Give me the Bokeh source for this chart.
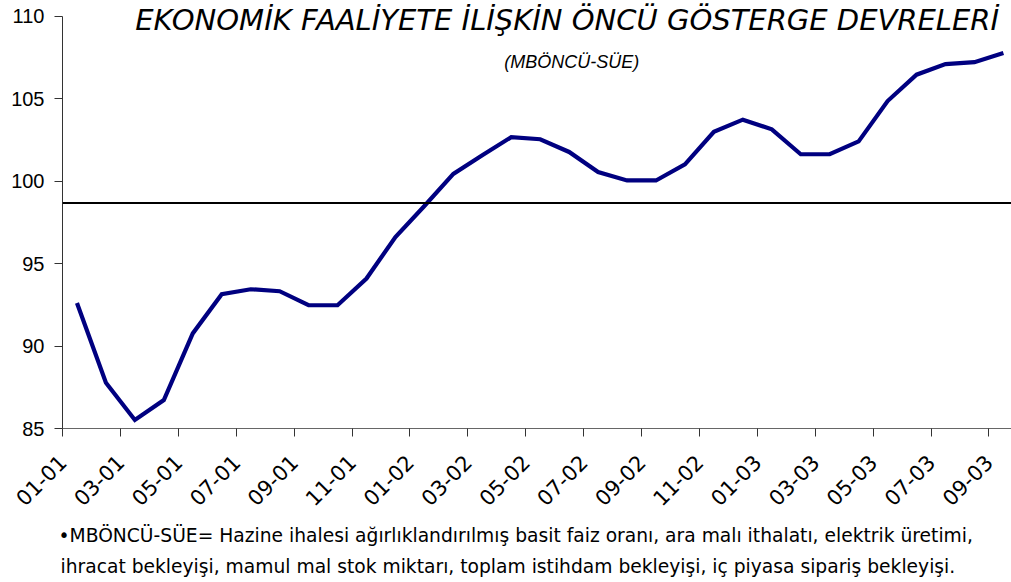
import math
from bokeh.plotting import figure
from bokeh.models import Range1d, FixedTicker, Label, Span, ColumnDataSource, Title
from bokeh.embed import file_html
from bokeh.resources import INLINE

# ---- data ----
months = ["01-01", "02-01", "03-01", "04-01", "05-01", "06-01", "07-01", "08-01",
          "09-01", "10-01", "11-01", "12-01",
          "01-02", "02-02", "03-02", "04-02", "05-02", "06-02", "07-02", "08-02",
          "09-02", "10-02", "11-02", "12-02",
          "01-03", "02-03", "03-03", "04-03", "05-03", "06-03", "07-03", "08-03",
          "09-03"]
values = [92.62, 87.78, 85.52, 86.73, 90.77, 93.15, 93.45, 93.33,
          92.48, 92.48, 94.10, 96.62,
          98.50, 100.45, 101.58, 102.68, 102.55, 101.78, 100.56, 100.05,
          100.05, 101.03, 103.00, 103.74,
          103.15, 101.64, 101.64, 102.42, 104.87, 106.47, 107.11, 107.23,
          107.78]
ref_level = 98.68
y_ticks = [85, 90, 95, 100, 105, 110]
x_tick_idx = list(range(0, len(months), 2))

title_text = "EKONOMİK FAALİYETE İLİŞKİN ÖNCÜ GÖSTERGE DEVRELERİ"
subtitle_text = "(MBÖNCÜ-SÜE)"
note_line1 = "•MBÖNCÜ-SÜE= Hazine ihalesi ağırlıklandırılmış basit faiz oranı, ara malı ithalatı, elektrik üretimi,"
note_line2 = "ihracat bekleyişi, mamul mal stok miktarı, toplam istihdam bekleyişi, iç piyasa sipariş bekleyişi."

# ---- figure ----
p = figure(width=1011, height=582, output_backend="svg", toolbar_location=None,
           x_range=Range1d(0, 32.78), y_range=Range1d(85, 110.97),
           min_border_left=62, min_border_top=0, min_border_right=0,
           min_border_bottom=154)
p.outline_line_color = None
p.background_fill_color = "white"
p.border_fill_color = "white"
p.xgrid.visible = False
p.ygrid.visible = False

src = ColumnDataSource(dict(x=[i + 0.5 for i in range(len(values))], y=values))
p.line("x", "y", source=src, line_color="#000080", line_width=4.2, line_join="miter")

p.add_layout(Span(location=ref_level, dimension="width", line_color="black", line_width=2))

# y axis
ya = p.yaxis[0]
ya.ticker = FixedTicker(ticks=y_ticks)
ya.bounds = (85, 110)
ya.minor_tick_line_color = None
ya.major_tick_out = 8
ya.major_tick_in = 0
ya.axis_line_color = "#333333"
ya.major_tick_line_color = "#333333"
ya.major_label_text_font = "Liberation Sans"
ya.major_label_text_font_size = "20px"
ya.major_label_text_color = "black"
ya.major_label_standoff = 10

# x axis
xa = p.xaxis[0]
xa.ticker = FixedTicker(ticks=x_tick_idx)
xa.major_label_overrides = {i: months[i] for i in x_tick_idx}
xa.minor_tick_line_color = None
xa.major_tick_out = 8
xa.major_tick_in = 0
xa.axis_line_color = "#666666"
xa.major_tick_line_color = "#333333"
xa.major_label_text_font = "DejaVu Sans"
xa.major_label_text_font_size = "21px"
xa.major_label_text_color = "black"
xa.major_label_orientation = math.pi / 4
xa.major_label_standoff = 22

# footnote
p.add_layout(Title(text=note_line1, align="left", offset=-4, standoff=14,
                   text_font="DejaVu Sans", text_font_style="normal",
                   text_font_size="18.7px", text_color="black"), "below")
p.add_layout(Title(text=note_line2, align="left", offset=-2, standoff=3,
                   text_font="DejaVu Sans", text_font_style="normal",
                   text_font_size="18.7px", text_color="black"), "below")

# titles
p.add_layout(Label(x=17.43, y=109.8, text=title_text, text_align="center",
                   text_baseline="alphabetic", text_font="DejaVu Sans",
                   text_font_style="italic", text_font_size="29px", text_color="black"))
p.add_layout(Label(x=17.59, y=107.25, text=subtitle_text, text_align="center",
                   text_baseline="alphabetic", text_font="Liberation Sans",
                   text_font_style="italic", text_font_size="18px", text_color="black"))

open("out.html", "w").write(file_html(p, INLINE))
